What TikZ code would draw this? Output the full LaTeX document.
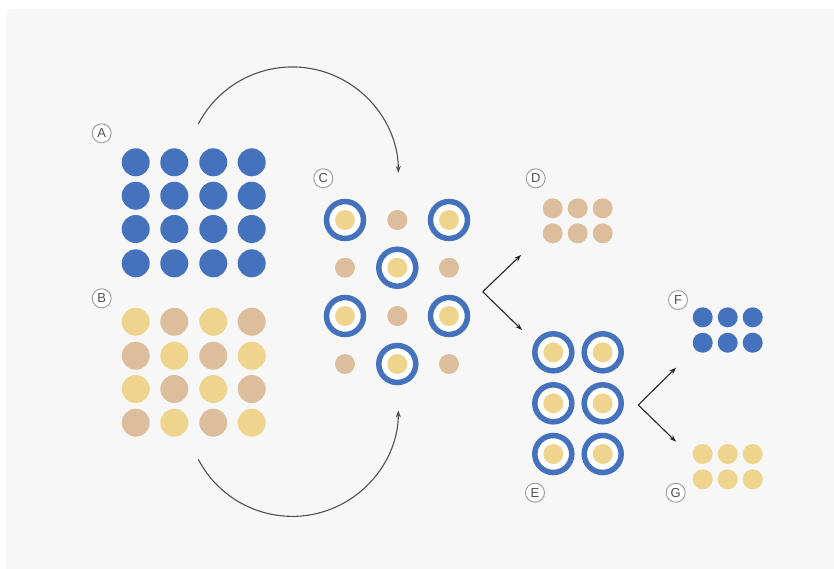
\documentclass[tikz,border=0pt]{standalone}
\usepackage{fontspec}
\setmainfont{Liberation Sans}
\usetikzlibrary{arrows.meta}
\definecolor{bg}{HTML}{F7F7F7}
\definecolor{cblue}{HTML}{4472BD}
\definecolor{cyel}{HTML}{EFD48E}
\definecolor{ctan}{HTML}{DCBE9C}
\definecolor{cline}{HTML}{505050}
\definecolor{clab}{HTML}{9A9A9A}
\tikzset{
  bluedot/.style={circle,fill=cblue,minimum size=28pt,inner sep=0pt},
  yeldot/.style={circle,fill=cyel,minimum size=28pt,inner sep=0pt},
  tandot/.style={circle,fill=ctan,minimum size=28pt,inner sep=0pt},
  smalltan/.style={circle,fill=ctan,minimum size=20pt,inner sep=0pt},
  smallyel/.style={circle,fill=cyel,minimum size=20pt,inner sep=0pt},
  smallblue/.style={circle,fill=cblue,minimum size=20pt,inner sep=0pt},
  ring/.style={circle,draw=cblue,line width=5.5pt,fill=white,minimum size=37pt,inner sep=0pt},
  lab/.style={circle,draw=clab,line width=0.9pt,fill=white,minimum size=19pt,inner sep=0pt,text=cline,font=\fontsize{13}{13}\selectfont},
  conn/.style={draw=cline,line width=1.1pt,-{Stealth[length=7pt,width=5pt]}},
  flow/.style={draw=black!85,line width=1.1pt,-{Stealth[length=7pt,width=5pt]}}
}
\newcommand{\complexat}[3]{%
  \node[ring] (#1) at (#2,#3) {};
  \node[smallyel] at (#2,#3) {};
}
\begin{document}
\begin{tikzpicture}[x=1pt,y=-1pt]
\useasboundingbox (0,0) rectangle (834,568);
\fill[white] (0,0) rectangle (834,568);
\fill[bg,rounded corners=6pt] (6,9) rectangle (850,580);

% Group A
\node[lab] (labA) at (101.7,133.3) {A};
\foreach \c [count=\i] in {135.7,174.3,213.3,251.7}{
  \foreach \r [count=\j] in {162.3,195.7,229,263.3}{
    \node[bluedot] (a\i\j) at (\c,\r) {};
  }
}

% Group B
\node[lab] (labB) at (101.7,298.3) {B};
\foreach \c [count=\i] in {135.7,174.3,213.3,251.7}{
  \foreach \r [count=\j] in {321.7,355.7,389,422.7}{
    \pgfmathtruncatemacro{\myparity}{mod(\i+\j,2)}
    \ifnum\myparity=0
      \node[yeldot] (b\i\j) at (\c,\r) {};
    \else
      \node[tandot] (b\i\j) at (\c,\r) {};
    \fi
  }
}

% Group C
\node[lab] (labC) at (323.3,178.3) {C};
\complexat{c1}{345}{220}
\complexat{c2}{449}{220}
\complexat{c3}{397.3}{267.7}
\complexat{c4}{345}{316}
\complexat{c5}{449}{316}
\complexat{c6}{397.3}{364}
\node[smalltan] (t1) at (397.3,220) {};
\node[smalltan] (t2) at (345,267.7) {};
\node[smalltan] (t3) at (449,267.7) {};
\node[smalltan] (t4) at (397.3,316) {};
\node[smalltan] (t5) at (345,364) {};
\node[smalltan] (t6) at (449,364) {};

% Group D
\node[lab] (labD) at (535.7,178.3) {D};
\foreach \c [count=\i] in {552.7,577.7,602.7}{
  \foreach \r [count=\j] in {208.3,233.3}{
    \node[smalltan] (d\i\j) at (\c,\r) {};
  }
}

% Group E
\node[lab] (labE) at (535,492.7) {E};
\complexat{e1}{553.3}{352.3}
\complexat{e2}{602.7}{352.3}
\complexat{e3}{553.3}{403.3}
\complexat{e4}{602.7}{403.3}
\complexat{e5}{553.3}{454}
\complexat{e6}{602.7}{454}

% Group F
\node[lab] (labF) at (678,300) {F};
\foreach \c [count=\i] in {702.7,727.7,752.7}{
  \foreach \r [count=\j] in {317.3,342.7}{
    \node[smallblue] (f\i\j) at (\c,\r) {};
  }
}

% Group G
\node[lab] (labG) at (675.7,492.7) {G};
\foreach \c [count=\i] in {702.7,727.7,752.7}{
  \foreach \r [count=\j] in {454,479.3}{
    \node[smallyel] (g\i\j) at (\c,\r) {};
  }
}

% curved arrows
\coordinate (topstart) at (198.3,124);
\coordinate (botstart) at (198.3,459.3);
\draw[conn] (topstart) arc[start angle=-152.5,end angle=0,radius=106];
\draw[conn] (botstart) arc[start angle=152.5,end angle=0,radius=106];

% split arrows
\coordinate (v1) at (482.7,291.7);
\coordinate (v1u) at (521,255);
\coordinate (v1d) at (522,330);
\draw[flow] (v1) -- (v1u);
\draw[flow] (v1) -- (v1d);
\coordinate (v2) at (638.3,405);
\coordinate (v2u) at (676,367.7);
\coordinate (v2d) at (676,441.7);
\draw[flow] (v2) -- (v2u);
\draw[flow] (v2) -- (v2d);
\end{tikzpicture}
\end{document}
